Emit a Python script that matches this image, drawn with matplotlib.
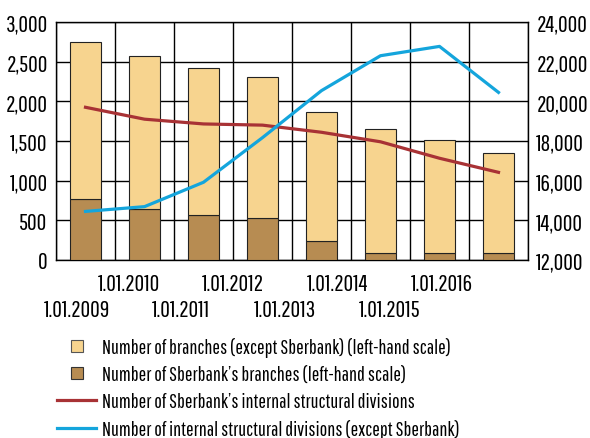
import matplotlib
matplotlib.use("Agg")
import matplotlib.pyplot as plt
import numpy as np
from matplotlib.lines import Line2D

dates = ["1.01.2009", "1.01.2010", "1.01.2011", "1.01.2012",
         "1.01.2013", "1.01.2014", "1.01.2015", "1.01.2016"]
sber_branches = [770, 645, 567, 525, 235, 88, 88, 88]
other_branches = [1980, 1925, 1853, 1785, 1635, 1563, 1429, 1257]
sber_divisions = [19700, 19100, 18860, 18800, 18440, 17960, 17130, 16420]
other_divisions = [14450, 14690, 15920, 18170, 20540, 22300, 22770, 20450]

labels = ["Number of branches (except Sberbank) (left-hand scale)",
          "Number of Sberbank\u2019s branches (left-hand scale)",
          "Number of Sberbank\u2019s internal structural divisions",
          "Number of internal structural divisions (except Sberbank)"]

plt.rcParams['font.family'] = ['Pathway Gothic One', 'DejaVu Sans']

C_LIGHT = "#F7D48F"
C_DARK = "#B78C52"
C_RED = "#A83235"
C_BLUE = "#14A5DC"
FS_TICK = 17
FS_LEG = 14.5

fig = plt.figure(figsize=(5.9, 4.39), dpi=100)
ax = fig.add_axes([56/590, 1-261/439, (528-56)/590, (261-23)/439])
ax2 = ax.twinx()

x = np.arange(len(dates))
ax.bar(x, sber_branches, width=0.51, color=C_DARK, edgecolor="#222222", linewidth=0.8, zorder=3)
ax.bar(x, other_branches, bottom=sber_branches, width=0.51, color=C_LIGHT,
       edgecolor="#222222", linewidth=0.8, zorder=3)

ax.set_xlim(-0.5, len(dates) - 0.5)
ax.set_ylim(0, 3000)
ax.set_yticks(np.arange(0, 3001, 500))
ax.set_yticklabels([f"{v:,}" for v in range(0, 3001, 500)])
ax.set_xticks(np.arange(-0.5, len(dates) + 0.5, 1.0))
ax.set_xticklabels([])
ax.grid(True, color="black", linewidth=1.0, zorder=0)
ax.set_axisbelow(True)
ax.tick_params(length=0, labelsize=FS_TICK, pad=6)
for s in ax.spines.values():
    s.set_linewidth(1.0)

ax2.set_ylim(12000, 24000)
ax2.set_yticks(np.arange(12000, 24001, 2000))
ax2.set_yticklabels([f"{v:,}" for v in range(12000, 24001, 2000)])
ax2.tick_params(length=0, labelsize=FS_TICK, pad=6)
ax2.plot(x, sber_divisions, color=C_RED, linewidth=2.3, zorder=4)
ax2.plot(x, other_divisions, color=C_BLUE, linewidth=2.3, zorder=4)
for s in ax2.spines.values():
    s.set_visible(False)

label_pos = np.arange(len(dates)) * 0.884 - 0.15
trans = ax.get_xaxis_transform()
for i, (p, d) in enumerate(zip(label_pos, dates)):
    yoff = -0.098 if i % 2 == 1 else -0.208
    ax.text(p, yoff, d, transform=trans, ha="center", va="center", fontsize=FS_TICK)

handles = [
    Line2D([], [], marker="s", linestyle="none", markersize=8, markerfacecolor=C_LIGHT,
           markeredgecolor="#555555", markeredgewidth=0.8),
    Line2D([], [], marker="s", linestyle="none", markersize=8, markerfacecolor=C_DARK,
           markeredgecolor="#333333", markeredgewidth=0.8),
    Line2D([], [], color=C_RED, linewidth=2.3),
    Line2D([], [], color=C_BLUE, linewidth=2.3),
]
fig.legend(handles, labels, loc="upper left", bbox_to_anchor=(57/590, 1-338/439),
           frameon=False, fontsize=FS_LEG, handlelength=1.95, handletextpad=0.27,
           labelspacing=0.4, borderaxespad=0, borderpad=0)

fig.savefig("out.png", dpi=100)
